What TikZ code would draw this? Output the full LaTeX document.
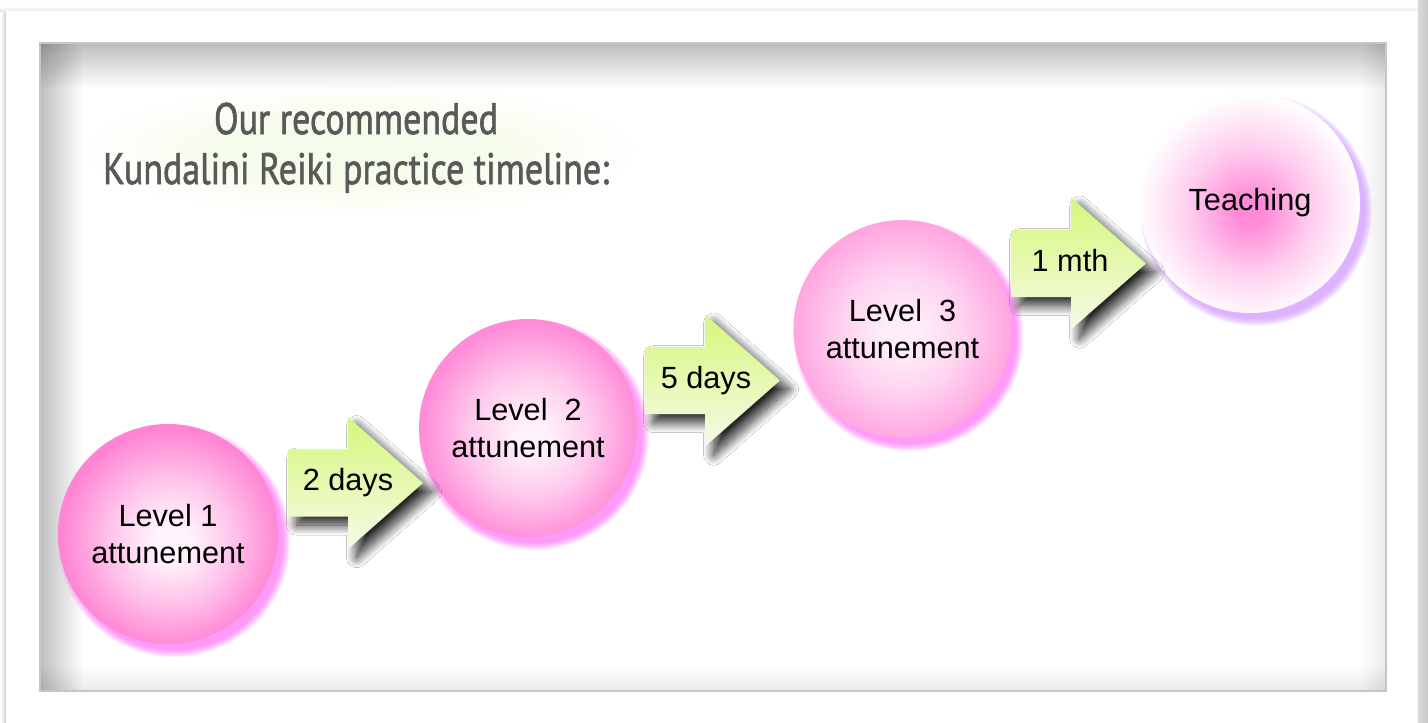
\documentclass[tikz,border=0pt]{standalone}
\usepackage{fontspec}
\setmainfont{Liberation Sans}
\newfontfamily\titlefont{PT Sans}[FakeBold=1.6]
\usetikzlibrary{shadows.blur}

\definecolor{titlegray}{HTML}{595959}
\definecolor{tglow}{HTML}{F6FCEB}
\definecolor{oneIn}{HTML}{FFF4FB}
\definecolor{oneMid}{HTML}{FFC4EA}
\definecolor{oneOut}{HTML}{FF84D3}
\definecolor{twoIn}{HTML}{FFF0F9}
\definecolor{twoMid}{HTML}{FFCAEC}
\definecolor{twoOut}{HTML}{FF8CD8}
\definecolor{thrIn}{HTML}{FFEEF9}
\definecolor{thrMid}{HTML}{FFD2F0}
\definecolor{thrOut}{HTML}{FFA6E0}
\definecolor{tchIn}{HTML}{FF8AD8}
\definecolor{tchMid}{HTML}{FFCDEE}
\definecolor{tchOut}{HTML}{FFFCFE}
\definecolor{glowPink}{HTML}{FF55F5}
\definecolor{glowPurple}{HTML}{C880FF}
\definecolor{arrTop}{HTML}{D6F77C}
\definecolor{arrBot}{HTML}{F5FAE6}

\pgfdeclareradialshading{titleglow}{\pgfpoint{0bp}{0bp}}{color(0bp)=(tglow); color(12bp)=(tglow); color(25bp)=(white); color(50bp)=(white)}
\pgfdeclareradialshading{ballone}{\pgfpoint{1bp}{-2bp}}{color(0bp)=(oneIn); color(4bp)=(oneIn); color(14bp)=(oneMid); color(25bp)=(oneOut); color(50bp)=(oneOut)}
\pgfdeclareradialshading{balltwo}{\pgfpoint{1bp}{-2bp}}{color(0bp)=(twoIn); color(4bp)=(twoIn); color(14bp)=(twoMid); color(25bp)=(twoOut); color(50bp)=(twoOut)}
\pgfdeclareradialshading{ballthree}{\pgfpoint{0bp}{-1bp}}{color(0bp)=(thrIn); color(4bp)=(thrIn); color(14bp)=(thrMid); color(25bp)=(thrOut); color(50bp)=(thrOut)}
\pgfdeclareradialshading{ballteach}{\pgfpoint{0bp}{-2bp}}{color(0bp)=(tchIn); color(3bp)=(tchIn); color(14bp)=(tchMid); color(25bp)=(tchOut); color(50bp)=(tchOut)}

\tikzset{
  ball/.style={circle, shade, inner sep=0pt, align=center, text=black,
    font=\fontsize{23}{28}\selectfont},
  arrlabel/.style={anchor=base, inner sep=0pt, text=black,
    font=\fontsize{23}{28}\selectfont},
  blockarrow/.style={shade, top color=arrTop, bottom color=arrBot,
    blur shadow={shadow xshift=6.5pt, shadow yshift=-6.5pt,
      shadow blur radius=7.5pt, shadow blur steps=20, shadow opacity=85}},
  innershade/.style={black, opacity=0.016},
  glowring/.style={opacity=0.1}
}

% glow behind a ball: x, y, r, colour
\newcommand{\ballglow}[4]{%
  \foreach \k in {0,...,7}{\fill[#4, glowring] (#1+6,#2+7) circle ({#3-1+\k});}%
}
% block arrow: x0, yc
\newcommand{\blockarr}[2]{%
  \path[blockarrow] (#1,#2-33.5) -- (#1+60,#2-33.5) -- (#1+60,#2-66)
    -- (#1+135,#2) -- (#1+60,#2+66) -- (#1+60,#2+33.5) -- (#1,#2+33.5) -- cycle;%
}

\begin{document}
\begin{tikzpicture}[x=0.75pt,y=-0.75pt]
\useasboundingbox (0,0) rectangle (1428,722);
\fill[white] (0,0) rectangle (1428,722);

% outer page edges
\shade[left color=white, right color=gray!40] (1,10) rectangle (6,722);
\shade[top color=white, bottom color=gray!20] (0,6) rectangle (1418,11);
\fill[white] (6,11) rectangle (1418,722);
\shade[left color=gray!30, right color=gray!42] (1418,0) rectangle (1428,722);

% inner panel
\fill[white] (40,43) rectangle (1386,691);
\shade[shading=titleglow] (360,150) ellipse (285 and 68);
\foreach \i in {1,...,16}{\fill[innershade] (40,43) rectangle (1386,43+2.8*\i);}
\foreach \i in {1,...,16}{\fill[innershade] (40,43) rectangle (40+2.6*\i,691);}
\foreach \i in {1,...,10}{\fill[black, opacity=0.009] (1386-2.5*\i,43) rectangle (1386,691);}
\foreach \i in {1,...,10}{\fill[black, opacity=0.009] (40,691-2.5*\i) rectangle (1386,691);}
\draw[gray!45, line width=1.1pt] (40,43) rectangle (1386,691);

% title
\node[anchor=base, inner sep=0pt, align=center, text=titlegray,
  font=\titlefont\fontsize{33}{37.5}\selectfont] (title) at (356,184)
  {\resizebox{213pt}{\height}{Our recommended}\\
   \resizebox{379.5pt}{\height}{Kundalini Reiki practice timeline:}};

% glows
\ballglow{168}{534}{110}{glowPink}
\ballglow{528}{428}{109}{glowPink}
\ballglow{902.5}{329}{109}{glowPink}
\ballglow{1250}{203}{110}{glowPurple}

% balls
\node[ball, shading=ballone, minimum size=165pt] (l1) at (168,534) {Level 1\\attunement};
\node[ball, shading=balltwo, minimum size=163.5pt] (l2) at (528,428) {Level\ \ 2\\attunement};
\node[ball, shading=ballthree, minimum size=163.5pt] (l3) at (902.5,329) {Level\ \ 3\\attunement};
\node[ball, shading=ballteach, minimum size=165pt] (teach) at (1250,203) {Teaching};

% arrows
\blockarr{288}{483}
\node[arrlabel] (a1) at (348,490) {2 days};
\blockarr{645}{380.5}
\node[arrlabel] (a2) at (706,388) {5 days};
\blockarr{1011}{263.5}
\node[arrlabel] (a3) at (1070,271.5) {1 mth};
\end{tikzpicture}
\end{document}
